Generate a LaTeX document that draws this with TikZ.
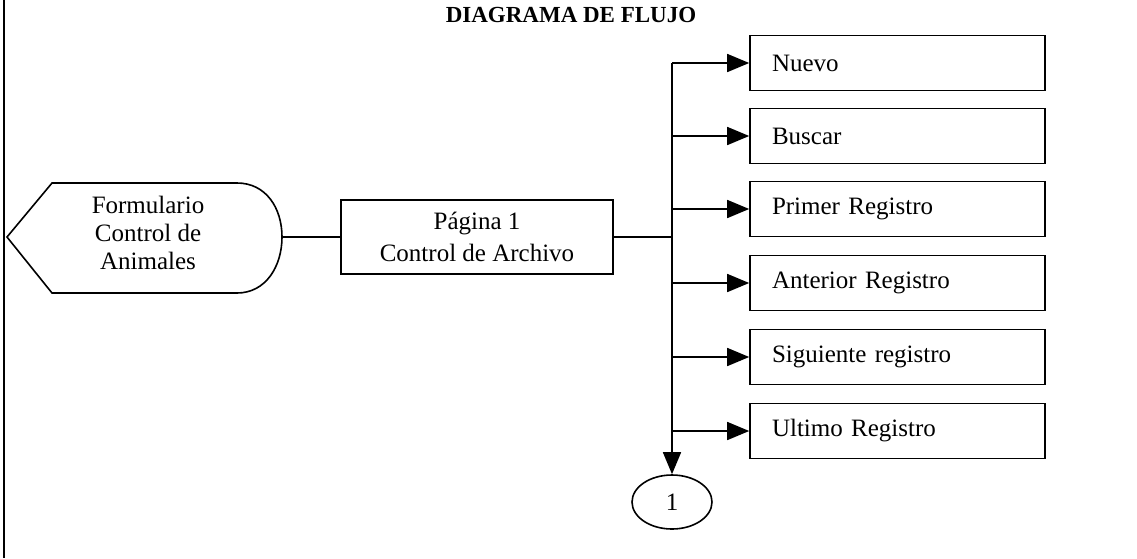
\documentclass[tikz,border=0pt]{standalone}
\usepackage{fontspec}
\setmainfont{Liberation Serif}
\usetikzlibrary{arrows.meta,shapes.geometric}
\begin{document}
\begin{tikzpicture}[x=1pt,y=-1pt,
  line width=1.6pt,
  boxtxt/.style={font=\fontsize{25}{30}\selectfont},
  optbox/.style={draw,rectangle,boxtxt,text width=251pt,inner xsep=22pt,inner ysep=0pt,
     minimum height=55pt,align=left},
  arr/.style={-{Triangle[length=22pt,width=18pt]}}]
\useasboundingbox (0,0) rectangle (1137,558);
% left border
\draw (4,0) -- (4,558);
% title
\node (title) at (571,15) {\fontsize{23}{26}\selectfont\bfseries DIAGRAMA DE FLUJO};
% display shape
\draw (7,237) -- (52,183) -- (237,183)
  .. controls (266,183) and (282,208) .. (282,237)
  .. controls (282,266) and (266,293) .. (237,293)
  -- (52,293) -- cycle;
\coordinate (dispE) at (282,237);
\node[boxtxt,align=center,font=\fontsize{25}{28}\selectfont] (disp) at (148,233) {Formulario\\Control de\\Animales};
% page box
\node[draw,rectangle,boxtxt,align=center,minimum width=272pt,minimum height=74pt,
  font=\fontsize{25}{32}\selectfont] (page) at (477,237) {Página 1\\Control de Archivo};
\draw (dispE) -- (page.west);
% option boxes
\node[optbox] (b1) at (897.5,63) {Nuevo};
\node[optbox] (b2) at (897.5,136) {Buscar};
\node[optbox] (b3) at (897.5,209) {Primer Registro};
\node[optbox] (b4) at (897.5,283) {Anterior Registro};
\node[optbox] (b5) at (897.5,357) {Siguiente registro};
\node[optbox] (b6) at (897.5,431) {Ultimo Registro};
% connector circle
\node[draw,ellipse,minimum width=80pt,minimum height=54pt,inner sep=0pt,boxtxt] (c1) at (672,502) {1};
% bus
\coordinate (busTop) at (672,63);
\coordinate (busMid) at (672,237);
\coordinate (t2) at (672,136);
\coordinate (t3) at (672,209);
\coordinate (t4) at (672,283);
\coordinate (t5) at (672,357);
\coordinate (t6) at (672,431);
\draw (page.east) -- (busMid);
\draw[arr] (busTop) -- (c1.north);
\draw[arr] (busTop) -- (b1.west);
\draw[arr] (t2) -- (b2.west);
\draw[arr] (t3) -- (b3.west);
\draw[arr] (t4) -- (b4.west);
\draw[arr] (t5) -- (b5.west);
\draw[arr] (t6) -- (b6.west);
\end{tikzpicture}
\end{document}
